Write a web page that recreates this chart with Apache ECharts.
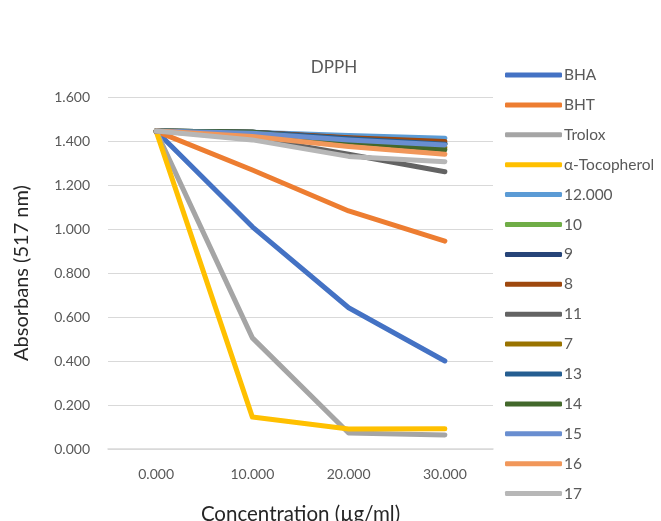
<!DOCTYPE html>
<html>
<head>
<meta charset="utf-8">
<script src="https://cdn.jsdelivr.net/npm/echarts@6/dist/echarts.min.js"></script>
<style>
html, body { margin: 0; padding: 0; background: #fff; }
#chart { width: 661px; height: 521px; }
</style>
</head>
<body>
<div id="chart"></div>
<script>
// Concentration steps (µg/ml)
const concentrations = ['0.000', '10.000', '20.000', '30.000'];

// Absorbance at 517 nm for each sample
const bha        = [1.445, 1.010, 0.642, 0.400];
const bht        = [1.445, 1.268, 1.082, 0.945];
const trolox     = [1.445, 0.505, 0.073, 0.064];
const tocopherol = [1.445, 0.145, 0.091, 0.092];
const s12        = [1.445, 1.440, 1.425, 1.412];
const s10        = [1.445, 1.440, 1.410, 1.385];
const s9         = [1.445, 1.440, 1.412, 1.390];
const s8         = [1.445, 1.440, 1.415, 1.398];
const s11        = [1.445, 1.415, 1.340, 1.260];
const s7         = [1.445, 1.435, 1.400, 1.370];
const s13        = [1.445, 1.440, 1.410, 1.385];
const s14        = [1.445, 1.440, 1.395, 1.360];
const s15        = [1.445, 1.435, 1.405, 1.382];
const s16        = [1.445, 1.420, 1.375, 1.340];
const s17        = [1.445, 1.405, 1.330, 1.306];

const seriesNames = ['BHA', 'BHT', 'Trolox', 'α-Tocopherol', '12.000', '10', '9', '8', '11', '7', '13', '14', '15', '16', '17'];
const seriesData  = [bha, bht, trolox, tocopherol, s12, s10, s9, s8, s11, s7, s13, s14, s15, s16, s17];
const palette = ['#4472C4', '#ED7D31', '#A5A5A5', '#FFC000', '#5B9BD5', '#70AD47',
                 '#264478', '#9E480E', '#636363', '#997300', '#255E91', '#43682B',
                 '#698ED0', '#F1975A', '#B7B7B7'];

const FONT = 'Lato, "Open Sans", sans-serif';

const chart = echarts.init(document.getElementById('chart'), null, { renderer: 'canvas' });
chart.setOption({
  animation: false,
  color: palette,
  title: {
    text: 'DPPH',
    left: 329,
    textAlign: 'center',
    top: 54,
    textStyle: { fontFamily: FONT, fontSize: 17, fontWeight: 'normal', color: '#595959' }
  },
  legend: {
    orient: 'vertical',
    left: 500,
    top: 61,
    itemWidth: 57,
    itemHeight: 5,
    itemGap: 11.9,
    icon: 'roundRect',
    textStyle: { fontFamily: FONT, fontSize: 15.5, color: '#595959', padding: [0, 0, 0, -3], lineHeight: 18 },
    data: seriesNames
  },
  grid: { left: 108, right: 168, top: 97, bottom: 72, containLabel: false, outerBoundsMode: 'none' },
  xAxis: {
    type: 'category',
    data: concentrations,
    boundaryGap: true,
    name: 'Concentration (µg/ml)',
    nameLocation: 'middle',
    nameGap: 55,
    nameTextStyle: { fontFamily: FONT, fontSize: 20.5, color: '#262626' },
    axisLine: { show: true, lineStyle: { color: '#D9D9D9', width: 1.5 } },
    axisTick: { show: false },
    axisLabel: { fontFamily: FONT, fontSize: 14, color: '#595959', margin: 18 }
  },
  yAxis: {
    type: 'value',
    min: 0,
    max: 1.6,
    interval: 0.2,
    name: 'Absorbans (517 nm)',
    nameLocation: 'middle',
    nameGap: 76,
    nameTextStyle: { fontFamily: FONT, fontSize: 20, color: '#262626' },
    axisLine: { show: false },
    axisTick: { show: false },
    splitLine: { lineStyle: { color: '#D9D9D9', width: 1.2 } },
    axisLabel: {
      fontFamily: FONT, fontSize: 14, color: '#595959', margin: 18,
      formatter: v => v.toFixed(3)
    }
  },
  series: seriesNames.map((name, i) => ({
    name,
    type: 'line',
    data: seriesData[i],
    symbol: 'none',
    lineStyle: { width: 5, cap: 'round', join: 'round' }
  }))
});
</script>
</body>
</html>
